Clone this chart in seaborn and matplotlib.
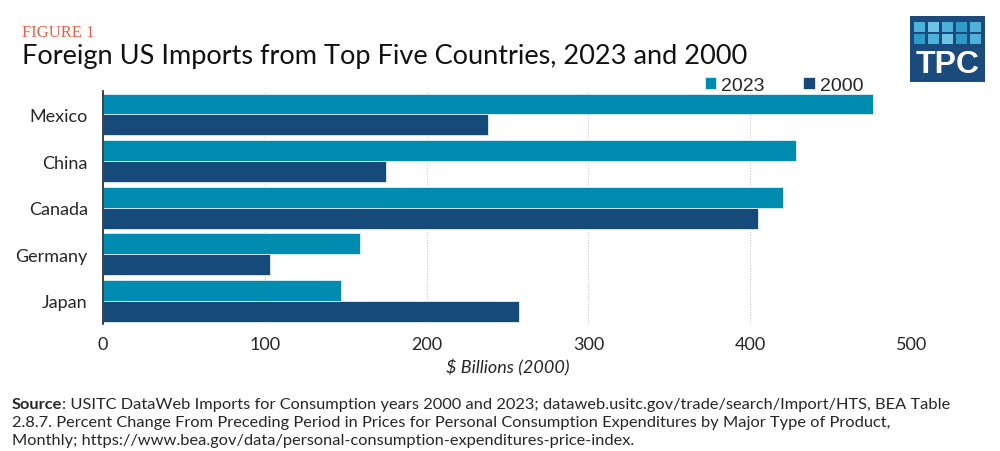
import seaborn as sns
import pandas as pd
import matplotlib.pyplot as plt
from matplotlib.patches import Rectangle

countries = ["Mexico", "China", "Canada", "Germany", "Japan"]
imports_2023 = [476, 428, 420, 159, 147]
imports_2000 = [238, 175, 405, 103, 257]
years = ["2023", "2000"]
x_ticks = [0, 100, 200, 300, 400, 500]

df = pd.DataFrame({
    "Country": countries * 2,
    "Year": [years[0]] * 5 + [years[1]] * 5,
    "Value": imports_2023 + imports_2000,
})

teal = "#008BB0"
navy = "#164A7B"

sns.set_style("white")
plt.rcParams["font.family"] = ["Lato", "DejaVu Sans"]

fig = plt.figure(figsize=(10, 4.52), dpi=100)
ax = fig.add_axes([0.103, 0.281, 0.809, 0.515])

sns.barplot(data=df, y="Country", x="Value", hue="Year", orient="h",
            palette=[teal, navy], saturation=1, width=0.9, linewidth=0.6,
            edgecolor="#dff1f7", ax=ax)

ax.set_xlim(0, 500)
ax.set_ylim(4.5, -0.5)
ax.set_xticks(x_ticks)
ax.set_xticklabels([str(t) for t in x_ticks], fontsize=13)
ax.tick_params(axis="x", length=0, pad=9)
ax.tick_params(axis="y", length=0, pad=11, labelsize=13)
ax.set_ylabel("")
ax.set_xlabel("$ Billions (2000)", style="italic", fontsize=13, labelpad=4)
ax.xaxis.grid(True, linestyle=(0, (1, 1.5)), color="#c8c8c8", linewidth=0.8)
ax.set_axisbelow(True)
for s in ["top", "right", "bottom"]:
    ax.spines[s].set_visible(False)
ax.spines["left"].set_color("#222222")
ax.spines["left"].set_linewidth(1.2)

leg = ax.legend(loc="lower right", bbox_to_anchor=(0.94, 0.99), ncol=2, frameon=False,
                fontsize=14, handlelength=0.6, handleheight=0.6, handletextpad=0.25,
                columnspacing=2.0, borderaxespad=0, borderpad=0)
for t in leg.get_texts():
    t.set_family(["Liberation Sans", "DejaVu Sans"])

fig.text(0.022, 0.928, "FIGURE 1", color="#E8604C", fontsize=12,
         family=["Liberation Serif", "DejaVu Serif"], va="center")
fig.text(0.022, 0.876, "Foreign US Imports from Top Five Countries, 2023 and 2000",
         fontsize=19.5, va="center", color="#111111")

# TPC logo
logo_ax = fig.add_axes([0.910, 0.816, 0.075, 0.146])
logo_ax.set_xlim(0, 75)
logo_ax.set_ylim(66, 0)
logo_ax.axis("off")
logo_ax.add_patch(Rectangle((0, 0), 75, 66, color="#1B4A7C"))
shades = [["#4FB3D9", "#6CC3E3", "#4FB3D9", "#2E9BC8", "#4FB3D9"],
          ["#2E9BC8", "#4FB3D9", "#6CC3E3", "#2E9BC8", "#4FB3D9"]]
for r in range(2):
    for c in range(5):
        logo_ax.add_patch(Rectangle((4 + c * 14, 6 + r * 12), 11, 10, color=shades[r][c], lw=0))
logo_ax.text(37.5, 48, "TPC", color="white", fontsize=23, fontweight="bold",
             ha="center", va="center", family=["Liberation Sans", "DejaVu Sans"])

src_size = 11.8
fig.canvas.draw()
renderer = fig.canvas.get_renderer()
bold = fig.text(0.012, 0.105, "Source", fontsize=src_size, fontweight="bold", va="center")
bb = bold.get_window_extent(renderer)
fig.text(bb.x1 / fig.bbox.width, 0.105,
         ": USITC DataWeb Imports for Consumption years 2000 and 2023; "
         "dataweb.usitc.gov/trade/search/Import/HTS, BEA Table",
         fontsize=src_size, va="center")
fig.text(0.012, 0.065,
         "2.8.7. Percent Change From Preceding Period in Prices for Personal Consumption "
         "Expenditures by Major Type of Product,",
         fontsize=src_size, va="center")
fig.text(0.012, 0.024,
         "Monthly; https://www.bea.gov/data/personal-consumption-expenditures-price-index.",
         fontsize=src_size, va="center")

fig.savefig("out.png", dpi=100)
